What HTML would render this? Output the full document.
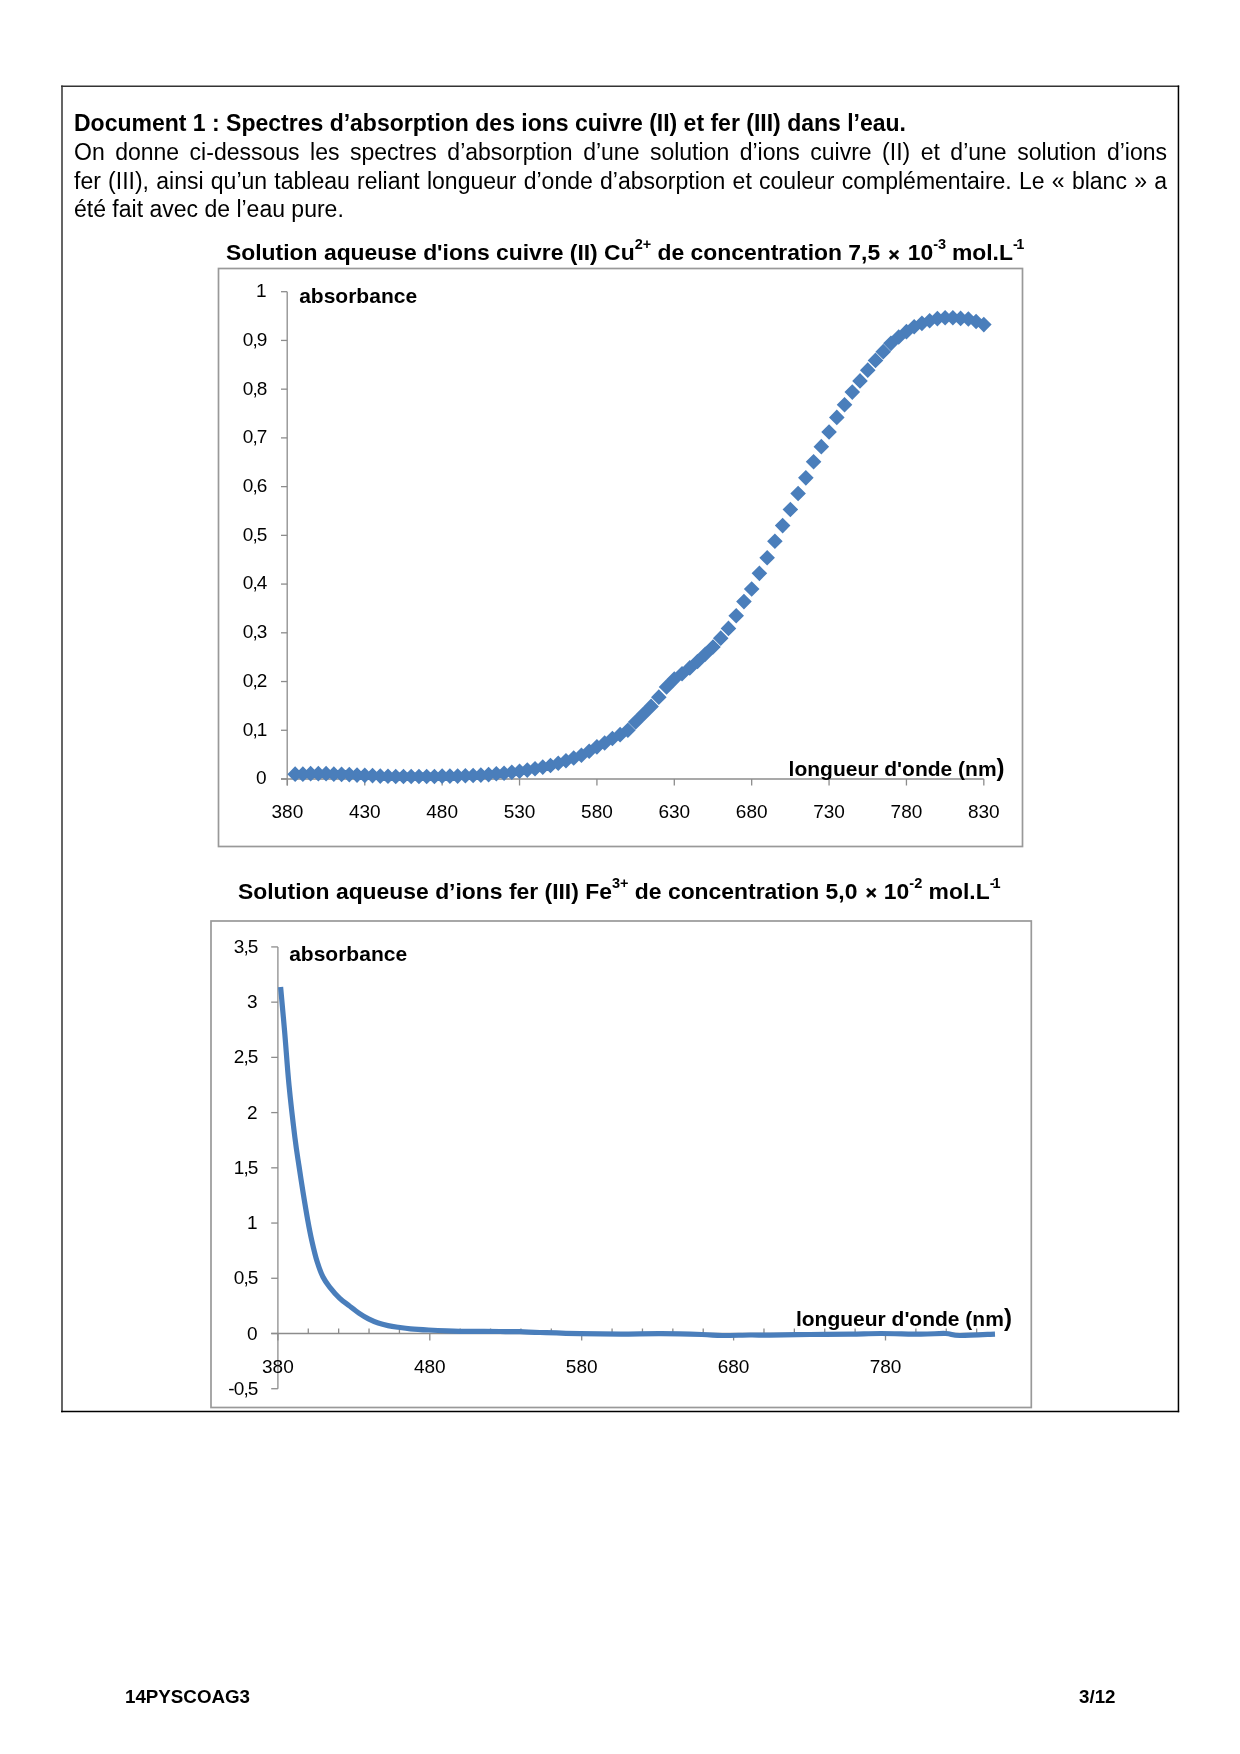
<!DOCTYPE html>
<html><head><meta charset="utf-8"><style>
html,body{margin:0;padding:0;background:#fff;}
body{width:1240px;height:1754px;position:relative;overflow:hidden;font-family:"Liberation Sans", sans-serif;color:#000;}
svg{position:absolute;left:0;top:0;will-change:transform;}
svg text{font-family:"Liberation Sans", sans-serif;fill:#000;}
.ln{will-change:transform;position:absolute;left:74px;width:1093px;font-size:23px;line-height:28.8px;white-space:nowrap;}
.j{text-align:justify;text-align-last:justify;}
</style></head><body>
<svg width="1240" height="1754" viewBox="0 0 1240 1754">
<line x1="62" y1="85.5" x2="62" y2="1412.3" stroke="#555" stroke-width="1.8"/>
<line x1="61.1" y1="86.3" x2="1179.2" y2="86.3" stroke="#333" stroke-width="1.5"/>
<line x1="1178.45" y1="85.5" x2="1178.45" y2="1412.3" stroke="#000" stroke-width="1.5"/>
<line x1="61.1" y1="1411.6" x2="1179.2" y2="1411.6" stroke="#000" stroke-width="1.5"/>
<rect x="218.5" y="268.5" width="804" height="578" fill="none" stroke="#999" stroke-width="1.7"/>
<line x1="287.20" y1="291.70" x2="287.20" y2="785.50" stroke="#8c8c8c" stroke-width="1.3"/>
<line x1="281.00" y1="779.00" x2="287.20" y2="779.00" stroke="#8c8c8c" stroke-width="1.3"/>
<text x="266.50" y="784.40" font-size="19" text-anchor="end" font-weight="normal">0</text>
<line x1="281.00" y1="730.27" x2="287.20" y2="730.27" stroke="#8c8c8c" stroke-width="1.3"/>
<text x="266.50" y="735.67" font-size="19" text-anchor="end" font-weight="normal" letter-spacing="-0.9">0,1</text>
<line x1="281.00" y1="681.54" x2="287.20" y2="681.54" stroke="#8c8c8c" stroke-width="1.3"/>
<text x="266.50" y="686.94" font-size="19" text-anchor="end" font-weight="normal" letter-spacing="-0.9">0,2</text>
<line x1="281.00" y1="632.81" x2="287.20" y2="632.81" stroke="#8c8c8c" stroke-width="1.3"/>
<text x="266.50" y="638.21" font-size="19" text-anchor="end" font-weight="normal" letter-spacing="-0.9">0,3</text>
<line x1="281.00" y1="584.08" x2="287.20" y2="584.08" stroke="#8c8c8c" stroke-width="1.3"/>
<text x="266.50" y="589.48" font-size="19" text-anchor="end" font-weight="normal" letter-spacing="-0.9">0,4</text>
<line x1="281.00" y1="535.35" x2="287.20" y2="535.35" stroke="#8c8c8c" stroke-width="1.3"/>
<text x="266.50" y="540.75" font-size="19" text-anchor="end" font-weight="normal" letter-spacing="-0.9">0,5</text>
<line x1="281.00" y1="486.62" x2="287.20" y2="486.62" stroke="#8c8c8c" stroke-width="1.3"/>
<text x="266.50" y="492.02" font-size="19" text-anchor="end" font-weight="normal" letter-spacing="-0.9">0,6</text>
<line x1="281.00" y1="437.89" x2="287.20" y2="437.89" stroke="#8c8c8c" stroke-width="1.3"/>
<text x="266.50" y="443.29" font-size="19" text-anchor="end" font-weight="normal" letter-spacing="-0.9">0,7</text>
<line x1="281.00" y1="389.16" x2="287.20" y2="389.16" stroke="#8c8c8c" stroke-width="1.3"/>
<text x="266.50" y="394.56" font-size="19" text-anchor="end" font-weight="normal" letter-spacing="-0.9">0,8</text>
<line x1="281.00" y1="340.43" x2="287.20" y2="340.43" stroke="#8c8c8c" stroke-width="1.3"/>
<text x="266.50" y="345.83" font-size="19" text-anchor="end" font-weight="normal" letter-spacing="-0.9">0,9</text>
<line x1="281.00" y1="291.70" x2="287.20" y2="291.70" stroke="#8c8c8c" stroke-width="1.3"/>
<text x="266.50" y="297.10" font-size="19" text-anchor="end" font-weight="normal">1</text>
<line x1="281.00" y1="779.00" x2="983.82" y2="779.00" stroke="#8c8c8c" stroke-width="1.3"/>
<line x1="287.40" y1="779.00" x2="287.40" y2="785.50" stroke="#8c8c8c" stroke-width="1.3"/>
<text x="287.40" y="818.10" font-size="19" text-anchor="middle" font-weight="normal">380</text>
<line x1="364.78" y1="779.00" x2="364.78" y2="785.50" stroke="#8c8c8c" stroke-width="1.3"/>
<text x="364.78" y="818.10" font-size="19" text-anchor="middle" font-weight="normal">430</text>
<line x1="442.16" y1="779.00" x2="442.16" y2="785.50" stroke="#8c8c8c" stroke-width="1.3"/>
<text x="442.16" y="818.10" font-size="19" text-anchor="middle" font-weight="normal">480</text>
<line x1="519.54" y1="779.00" x2="519.54" y2="785.50" stroke="#8c8c8c" stroke-width="1.3"/>
<text x="519.54" y="818.10" font-size="19" text-anchor="middle" font-weight="normal">530</text>
<line x1="596.92" y1="779.00" x2="596.92" y2="785.50" stroke="#8c8c8c" stroke-width="1.3"/>
<text x="596.92" y="818.10" font-size="19" text-anchor="middle" font-weight="normal">580</text>
<line x1="674.30" y1="779.00" x2="674.30" y2="785.50" stroke="#8c8c8c" stroke-width="1.3"/>
<text x="674.30" y="818.10" font-size="19" text-anchor="middle" font-weight="normal">630</text>
<line x1="751.68" y1="779.00" x2="751.68" y2="785.50" stroke="#8c8c8c" stroke-width="1.3"/>
<text x="751.68" y="818.10" font-size="19" text-anchor="middle" font-weight="normal">680</text>
<line x1="829.06" y1="779.00" x2="829.06" y2="785.50" stroke="#8c8c8c" stroke-width="1.3"/>
<text x="829.06" y="818.10" font-size="19" text-anchor="middle" font-weight="normal">730</text>
<line x1="906.44" y1="779.00" x2="906.44" y2="785.50" stroke="#8c8c8c" stroke-width="1.3"/>
<text x="906.44" y="818.10" font-size="19" text-anchor="middle" font-weight="normal">780</text>
<line x1="983.82" y1="779.00" x2="983.82" y2="785.50" stroke="#8c8c8c" stroke-width="1.3"/>
<text x="983.82" y="818.10" font-size="19" text-anchor="middle" font-weight="normal">830</text>
<text x="299.20" y="302.60" font-size="21" text-anchor="start" font-weight="bold">absorbance</text>
<text x="788.6" y="775.8" font-size="21" font-weight="bold">longueur d'onde (nm<tspan font-size="24" dy="0.5">)</tspan></text>
<path d="M287.34 774.13L295.14 766.33L302.94 774.13L295.14 781.93ZM295.08 774.13L302.88 766.33L310.68 774.13L302.88 781.93ZM302.81 773.64L310.61 765.84L318.41 773.64L310.61 781.44ZM310.55 773.64L318.35 765.84L326.15 773.64L318.35 781.44ZM318.29 773.64L326.09 765.84L333.89 773.64L326.09 781.44ZM326.03 774.13L333.83 766.33L341.63 774.13L333.83 781.93ZM333.77 774.37L341.57 766.57L349.37 774.37L341.57 782.17ZM341.50 774.61L349.30 766.81L357.10 774.61L349.30 782.41ZM349.24 775.10L357.04 767.30L364.84 775.10L357.04 782.90ZM356.98 775.35L364.78 767.55L372.58 775.35L364.78 783.15ZM364.72 775.59L372.52 767.79L380.32 775.59L372.52 783.39ZM372.46 776.08L380.26 768.28L388.06 776.08L380.26 783.88ZM380.19 776.32L387.99 768.52L395.79 776.32L387.99 784.12ZM387.93 776.56L395.73 768.76L403.53 776.56L395.73 784.36ZM395.67 776.56L403.47 768.76L411.27 776.56L403.47 784.36ZM403.41 776.56L411.21 768.76L419.01 776.56L411.21 784.36ZM411.15 776.56L418.95 768.76L426.75 776.56L418.95 784.36ZM418.88 776.56L426.68 768.76L434.48 776.56L426.68 784.36ZM426.62 776.56L434.42 768.76L442.22 776.56L434.42 784.36ZM434.36 776.08L442.16 768.28L449.96 776.08L442.16 783.88ZM442.10 776.08L449.90 768.28L457.70 776.08L449.90 783.88ZM449.84 776.08L457.64 768.28L465.44 776.08L457.64 783.88ZM457.57 775.69L465.37 767.89L473.17 775.69L465.37 783.49ZM465.31 775.49L473.11 767.69L480.91 775.49L473.11 783.29ZM473.05 775.10L480.85 767.30L488.65 775.10L480.85 782.90ZM480.79 774.61L488.59 766.81L496.39 774.61L488.59 782.41ZM488.53 773.79L496.33 765.99L504.13 773.79L496.33 781.59ZM496.26 773.30L504.06 765.50L511.86 773.30L504.06 781.10ZM504.00 772.28L511.80 764.48L519.60 772.28L511.80 780.08ZM511.74 771.20L519.54 763.40L527.34 771.20L519.54 779.00ZM519.48 770.08L527.28 762.28L535.08 770.08L527.28 777.88ZM527.22 768.77L535.02 760.97L542.82 768.77L535.02 776.57ZM534.95 767.11L542.75 759.31L550.55 767.11L542.75 774.91ZM542.69 765.50L550.49 757.70L558.29 765.50L550.49 773.30ZM550.43 763.31L558.23 755.51L566.03 763.31L558.23 771.11ZM558.17 760.73L565.97 752.93L573.77 760.73L565.97 768.53ZM565.91 758.05L573.71 750.25L581.51 758.05L573.71 765.85ZM573.64 755.27L581.44 747.47L589.24 755.27L581.44 763.07ZM581.38 751.22L589.18 743.42L596.98 751.22L589.18 759.02ZM589.12 746.84L596.92 739.04L604.72 746.84L596.92 754.64ZM596.86 742.94L604.66 735.14L612.46 742.94L604.66 750.74ZM604.60 738.55L612.40 730.75L620.20 738.55L612.40 746.35ZM612.33 734.66L620.13 726.86L627.93 734.66L620.13 742.46ZM620.07 730.27L627.87 722.47L635.67 730.27L627.87 738.07ZM627.81 721.99L635.61 714.19L643.41 721.99L635.61 729.79ZM635.55 714.19L643.35 706.39L651.15 714.19L643.35 721.99ZM643.29 706.39L651.09 698.59L658.89 706.39L651.09 714.19ZM651.02 697.13L658.82 689.33L666.62 697.13L658.82 704.93ZM658.76 686.90L666.56 679.10L674.36 686.90L666.56 694.70ZM666.50 679.10L674.30 671.30L682.10 679.10L674.30 686.90ZM674.24 673.74L682.04 665.94L689.84 673.74L682.04 681.54ZM681.98 667.90L689.78 660.10L697.58 667.90L689.78 675.70ZM689.71 661.56L697.51 653.76L705.31 661.56L697.51 669.36ZM697.45 654.25L705.25 646.45L713.05 654.25L705.25 662.05ZM705.19 646.94L712.99 639.14L720.79 646.94L712.99 654.74ZM712.93 638.17L720.73 630.37L728.53 638.17L720.73 645.97ZM720.67 628.42L728.47 620.62L736.27 628.42L728.47 636.22ZM728.40 615.75L736.20 607.95L744.00 615.75L736.20 623.55ZM736.14 601.62L743.94 593.82L751.74 601.62L743.94 609.42ZM743.88 588.95L751.68 581.15L759.48 588.95L751.68 596.75ZM751.62 573.36L759.42 565.56L767.22 573.36L759.42 581.16ZM759.36 557.77L767.16 549.97L774.96 557.77L767.16 565.57ZM767.09 541.20L774.89 533.40L782.69 541.20L774.89 549.00ZM774.83 525.60L782.63 517.80L790.43 525.60L782.63 533.40ZM782.57 509.52L790.37 501.72L798.17 509.52L790.37 517.32ZM790.31 493.44L798.11 485.64L805.91 493.44L798.11 501.24ZM798.05 477.85L805.85 470.05L813.65 477.85L805.85 485.65ZM805.78 461.77L813.58 453.97L821.38 461.77L813.58 469.57ZM813.52 446.66L821.32 438.86L829.12 446.66L821.32 454.46ZM821.26 432.04L829.06 424.24L836.86 432.04L829.06 439.84ZM829.00 417.42L836.80 409.62L844.60 417.42L836.80 425.22ZM836.74 404.75L844.54 396.95L852.34 404.75L844.54 412.55ZM844.47 392.08L852.27 384.28L860.07 392.08L852.27 399.88ZM852.21 380.88L860.01 373.08L867.81 380.88L860.01 388.68ZM859.95 370.16L867.75 362.36L875.55 370.16L867.75 377.96ZM867.69 360.41L875.49 352.61L883.29 360.41L875.49 368.21ZM875.43 351.64L883.23 343.84L891.03 351.64L883.23 359.44ZM883.16 343.35L890.96 335.55L898.76 343.35L890.96 351.15ZM890.90 337.02L898.70 329.22L906.50 337.02L898.70 344.82ZM898.64 331.66L906.44 323.86L914.24 331.66L906.44 339.46ZM906.38 326.79L914.18 318.99L921.98 326.79L914.18 334.59ZM914.12 323.37L921.92 315.57L929.72 323.37L921.92 331.17ZM921.85 320.69L929.65 312.89L937.45 320.69L929.65 328.49ZM929.59 318.60L937.39 310.80L945.19 318.60L937.39 326.40ZM937.33 317.72L945.13 309.92L952.93 317.72L945.13 325.52ZM945.07 317.72L952.87 309.92L960.67 317.72L952.87 325.52ZM952.81 318.40L960.61 310.60L968.41 318.40L960.61 326.20ZM960.54 318.99L968.34 311.19L976.14 318.99L968.34 326.79ZM968.28 321.57L976.08 313.77L983.88 321.57L976.08 329.37ZM976.02 324.59L983.82 316.79L991.62 324.59L983.82 332.39Z" fill="#4a7ebb"/>
<rect x="211" y="921" width="820.3" height="486.5" fill="none" stroke="#999" stroke-width="1.7"/>
<line x1="277.90" y1="947.00" x2="277.90" y2="1388.80" stroke="#8c8c8c" stroke-width="1.3"/>
<line x1="271.20" y1="1388.72" x2="277.90" y2="1388.72" stroke="#8c8c8c" stroke-width="1.3"/>
<text x="257.50" y="1394.82" font-size="19" text-anchor="end" font-weight="normal" letter-spacing="-0.9">-0,5</text>
<line x1="271.20" y1="1333.50" x2="277.90" y2="1333.50" stroke="#8c8c8c" stroke-width="1.3"/>
<text x="257.50" y="1339.60" font-size="19" text-anchor="end" font-weight="normal">0</text>
<line x1="271.20" y1="1278.28" x2="277.90" y2="1278.28" stroke="#8c8c8c" stroke-width="1.3"/>
<text x="257.50" y="1284.38" font-size="19" text-anchor="end" font-weight="normal" letter-spacing="-0.9">0,5</text>
<line x1="271.20" y1="1223.05" x2="277.90" y2="1223.05" stroke="#8c8c8c" stroke-width="1.3"/>
<text x="257.50" y="1229.15" font-size="19" text-anchor="end" font-weight="normal">1</text>
<line x1="271.20" y1="1167.83" x2="277.90" y2="1167.83" stroke="#8c8c8c" stroke-width="1.3"/>
<text x="257.50" y="1173.92" font-size="19" text-anchor="end" font-weight="normal" letter-spacing="-0.9">1,5</text>
<line x1="271.20" y1="1112.60" x2="277.90" y2="1112.60" stroke="#8c8c8c" stroke-width="1.3"/>
<text x="257.50" y="1118.70" font-size="19" text-anchor="end" font-weight="normal">2</text>
<line x1="271.20" y1="1057.38" x2="277.90" y2="1057.38" stroke="#8c8c8c" stroke-width="1.3"/>
<text x="257.50" y="1063.47" font-size="19" text-anchor="end" font-weight="normal" letter-spacing="-0.9">2,5</text>
<line x1="271.20" y1="1002.15" x2="277.90" y2="1002.15" stroke="#8c8c8c" stroke-width="1.3"/>
<text x="257.50" y="1008.25" font-size="19" text-anchor="end" font-weight="normal">3</text>
<line x1="271.20" y1="946.92" x2="277.90" y2="946.92" stroke="#8c8c8c" stroke-width="1.3"/>
<text x="257.50" y="953.02" font-size="19" text-anchor="end" font-weight="normal" letter-spacing="-0.9">3,5</text>
<line x1="271.20" y1="1333.50" x2="991.83" y2="1333.50" stroke="#8c8c8c" stroke-width="1.3"/>
<line x1="277.90" y1="1333.50" x2="277.90" y2="1340.50" stroke="#8c8c8c" stroke-width="1.3"/>
<text x="277.90" y="1373.00" font-size="19" text-anchor="middle" font-weight="normal">380</text>
<line x1="308.28" y1="1328.50" x2="308.28" y2="1333.50" stroke="#8c8c8c" stroke-width="1.3"/>
<line x1="338.66" y1="1328.50" x2="338.66" y2="1333.50" stroke="#8c8c8c" stroke-width="1.3"/>
<line x1="369.04" y1="1328.50" x2="369.04" y2="1333.50" stroke="#8c8c8c" stroke-width="1.3"/>
<line x1="399.42" y1="1328.50" x2="399.42" y2="1333.50" stroke="#8c8c8c" stroke-width="1.3"/>
<line x1="429.80" y1="1333.50" x2="429.80" y2="1340.50" stroke="#8c8c8c" stroke-width="1.3"/>
<text x="429.80" y="1373.00" font-size="19" text-anchor="middle" font-weight="normal">480</text>
<line x1="460.18" y1="1328.50" x2="460.18" y2="1333.50" stroke="#8c8c8c" stroke-width="1.3"/>
<line x1="490.56" y1="1328.50" x2="490.56" y2="1333.50" stroke="#8c8c8c" stroke-width="1.3"/>
<line x1="520.94" y1="1328.50" x2="520.94" y2="1333.50" stroke="#8c8c8c" stroke-width="1.3"/>
<line x1="551.32" y1="1328.50" x2="551.32" y2="1333.50" stroke="#8c8c8c" stroke-width="1.3"/>
<line x1="581.70" y1="1333.50" x2="581.70" y2="1340.50" stroke="#8c8c8c" stroke-width="1.3"/>
<text x="581.70" y="1373.00" font-size="19" text-anchor="middle" font-weight="normal">580</text>
<line x1="612.08" y1="1328.50" x2="612.08" y2="1333.50" stroke="#8c8c8c" stroke-width="1.3"/>
<line x1="642.46" y1="1328.50" x2="642.46" y2="1333.50" stroke="#8c8c8c" stroke-width="1.3"/>
<line x1="672.84" y1="1328.50" x2="672.84" y2="1333.50" stroke="#8c8c8c" stroke-width="1.3"/>
<line x1="703.22" y1="1328.50" x2="703.22" y2="1333.50" stroke="#8c8c8c" stroke-width="1.3"/>
<line x1="733.60" y1="1333.50" x2="733.60" y2="1340.50" stroke="#8c8c8c" stroke-width="1.3"/>
<text x="733.60" y="1373.00" font-size="19" text-anchor="middle" font-weight="normal">680</text>
<line x1="763.98" y1="1328.50" x2="763.98" y2="1333.50" stroke="#8c8c8c" stroke-width="1.3"/>
<line x1="794.36" y1="1328.50" x2="794.36" y2="1333.50" stroke="#8c8c8c" stroke-width="1.3"/>
<line x1="824.74" y1="1328.50" x2="824.74" y2="1333.50" stroke="#8c8c8c" stroke-width="1.3"/>
<line x1="855.12" y1="1328.50" x2="855.12" y2="1333.50" stroke="#8c8c8c" stroke-width="1.3"/>
<line x1="885.50" y1="1333.50" x2="885.50" y2="1340.50" stroke="#8c8c8c" stroke-width="1.3"/>
<text x="885.50" y="1373.00" font-size="19" text-anchor="middle" font-weight="normal">780</text>
<line x1="915.88" y1="1328.50" x2="915.88" y2="1333.50" stroke="#8c8c8c" stroke-width="1.3"/>
<line x1="946.26" y1="1328.50" x2="946.26" y2="1333.50" stroke="#8c8c8c" stroke-width="1.3"/>
<line x1="976.64" y1="1328.50" x2="976.64" y2="1333.50" stroke="#8c8c8c" stroke-width="1.3"/>
<text x="289.20" y="960.70" font-size="21" text-anchor="start" font-weight="bold">absorbance</text>
<text x="795.9" y="1325.6" font-size="21" font-weight="bold">longueur d'onde (nm<tspan font-size="24" dy="0.5">)</tspan></text>
<path d="M280.60 987.00 C281.28 994.58 283.30 1016.17 284.70 1032.50 C286.10 1048.83 287.30 1067.50 289.00 1085.00 C290.70 1102.50 293.23 1124.00 294.90 1137.50 C296.57 1151.00 297.65 1156.92 299.00 1166.00 C300.35 1175.08 301.53 1182.92 303.00 1192.00 C304.47 1201.08 306.32 1212.32 307.80 1220.50 C309.28 1228.68 310.35 1234.25 311.90 1241.10 C313.45 1247.95 315.25 1255.62 317.10 1261.60 C318.95 1267.58 320.87 1272.72 323.00 1277.00 C325.13 1281.28 327.15 1283.78 329.90 1287.30 C332.65 1290.82 336.28 1295.02 339.50 1298.10 C342.72 1301.18 345.97 1303.30 349.20 1305.80 C352.43 1308.30 355.68 1310.92 358.90 1313.10 C362.12 1315.28 365.28 1317.25 368.50 1318.90 C371.72 1320.55 374.95 1321.88 378.20 1323.00 C381.45 1324.12 384.63 1324.88 388.00 1325.60 C391.37 1326.32 394.65 1326.77 398.40 1327.30 C402.15 1327.83 405.47 1328.35 410.50 1328.80 C415.53 1329.25 422.57 1329.67 428.60 1330.00 C434.63 1330.33 439.65 1330.57 446.70 1330.80 C453.75 1331.03 462.02 1331.28 470.90 1331.40 C479.78 1331.52 491.82 1331.45 500.00 1331.50 C508.18 1331.55 513.33 1331.53 520.00 1331.70 C526.67 1331.87 530.00 1332.17 540.00 1332.50 C550.00 1332.83 566.50 1333.43 580.00 1333.70 C593.50 1333.97 607.50 1334.10 621.00 1334.10 C634.50 1334.10 647.50 1333.63 661.00 1333.70 C674.50 1333.77 691.83 1334.20 702.00 1334.50 C712.17 1334.80 714.00 1335.42 722.00 1335.50 C730.00 1335.58 742.00 1335.07 750.00 1335.00 C758.00 1334.93 760.00 1335.18 770.00 1335.10 C780.00 1335.02 796.50 1334.67 810.00 1334.50 C823.50 1334.33 839.17 1334.27 851.00 1334.10 C862.83 1333.93 869.33 1333.50 881.00 1333.50 C892.67 1333.50 910.23 1334.10 921.00 1334.10 C931.77 1334.10 939.15 1333.27 945.60 1333.50 C952.05 1333.73 951.47 1335.40 959.70 1335.50 C967.93 1335.60 989.12 1334.33 995.00 1334.10" fill="none" stroke="#4a7ebb" stroke-width="5.2" stroke-linejoin="round"/>
<text x="226" y="259.8" font-size="22.9" font-weight="bold">Solution aqueuse d'ions cuivre (II) Cu<tspan font-size="14.5" dy="-10.5">2+</tspan><tspan dy="10.5"> de concentration 7,5 </tspan><tspan font-size="19" dx="2" dy="0.7" stroke="#000" stroke-width="0.5">×</tspan><tspan dx="1.8" dy="-0.7"> 10</tspan><tspan font-size="14.5" dy="-10.5">-3</tspan><tspan dx="-0.6" dy="10.5"> mol.L</tspan><tspan font-size="14.5" dy="-10.5">-</tspan><tspan font-size="14.5" dx="-1.6">1</tspan></text>
<text x="238" y="898.7" font-size="22.9" font-weight="bold">Solution aqueuse d’ions fer (III) Fe<tspan font-size="14.5" dy="-10.5">3+</tspan><tspan dy="10.5"> de concentration 5,0 </tspan><tspan font-size="19" dx="2" dy="0.7" stroke="#000" stroke-width="0.5">×</tspan><tspan dx="0.6" dy="-0.7"> 10</tspan><tspan font-size="14.5" dy="-10.5">-2</tspan><tspan dy="10.5"> mol.L</tspan><tspan font-size="14.5" dy="-10.5">-</tspan><tspan font-size="14.5" dx="-1.9">1</tspan></text>
<text x="125.00" y="1702.90" font-size="18.75" text-anchor="start" font-weight="bold">14PYSCOAG3</text>
<text x="1115.50" y="1702.90" font-size="18.75" text-anchor="end" font-weight="bold">3/12</text>
<text x="74.00" y="130.90" font-size="23" text-anchor="start" font-weight="bold">Document 1 : Spectres d’absorption des ions cuivre (II) et fer (III) dans l’eau.</text>
</svg>
<div class="ln j" style="top:137.8px">On donne ci-dessous les spectres d’absorption d’une solution d’ions cuivre (II) et d’une solution d’ions</div>
<div class="ln j" style="top:166.6px">fer (III), ainsi qu’un tableau reliant longueur d’onde d’absorption et couleur complémentaire. Le « blanc » a</div>
<div class="ln" style="top:195.4px">été fait avec de l’eau pure.</div>
</body></html>
